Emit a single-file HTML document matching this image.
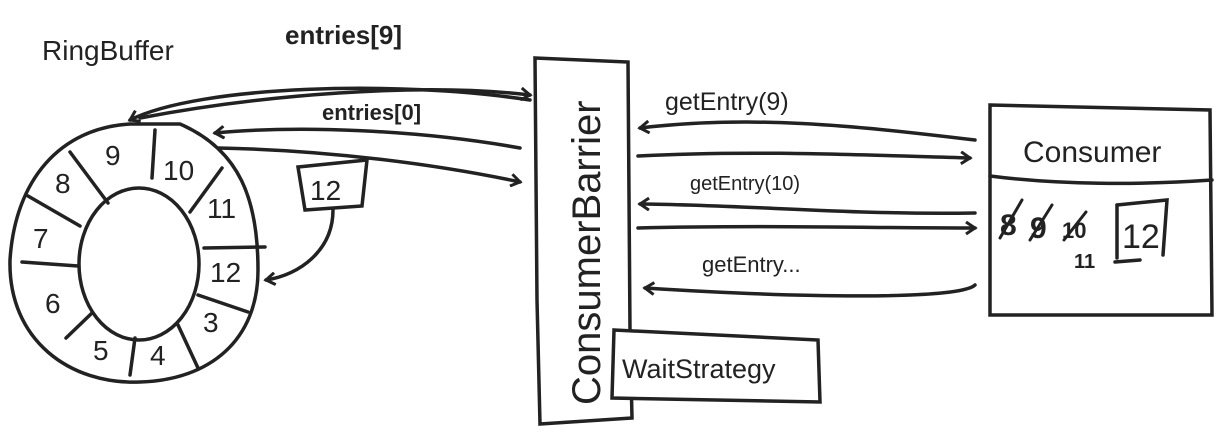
<!DOCTYPE html>
<html><head><meta charset="utf-8"><style>
html,body{margin:0;padding:0;background:#fff;}
svg{display:block;}
text{font-family:"Liberation Sans",sans-serif;fill:#222;}
</style></head><body>
<svg width="1216" height="444" viewBox="0 0 1216 444" xmlns="http://www.w3.org/2000/svg">
<defs>
<marker id="a" markerWidth="14" markerHeight="14" refX="10" refY="7" orient="auto" markerUnits="userSpaceOnUse">
<path d="M1,1 L10,7 L1,13" fill="none" stroke="#222" stroke-width="3"/>
</marker>
</defs>
<g fill="none" stroke="#222" stroke-width="3.5" stroke-linecap="round">
<path d="M130,124 C60,128 15,180 10,260 C8,340 70,385 140,382 C210,380 258,340 258,270 C258,200 240,150 180,124 Z"/>
<ellipse cx="139" cy="264" rx="60" ry="76"/>
<line x1="70" y1="152" x2="108" y2="203"/>
<line x1="155" y1="130" x2="152" y2="178"/>
<line x1="28" y1="196" x2="80" y2="226"/>
<line x1="22" y1="262" x2="78" y2="266"/>
<line x1="190" y1="212" x2="222" y2="168"/>
<line x1="204" y1="248" x2="265" y2="247"/>
<line x1="198" y1="295" x2="248" y2="312"/>
<line x1="66" y1="338" x2="92" y2="313"/>
<line x1="130" y1="375" x2="135" y2="338"/>
<line x1="178" y1="325" x2="198" y2="368"/>
<path d="M535,58 L628,62 L630,330 L632,418 L540,424 L537,300 Z"/>
<path d="M614,330 L818,340 L820,402 L612,398 Z" fill="#fff"/>
<path d="M990,105 L1210,110 L1212,315 L990,315 Z"/>
<path d="M990,176 C1060,185 1140,185 1212,180"/>
<path d="M298,167 L367,160 L362,206 L305,210 Z"/>
<path d="M333,210 C333,250 300,275 266,280" marker-end="url(#a)"/>
<path d="M530,100 C400,80 200,85 130,120" marker-end="url(#a)"/>
<path d="M520,148 C420,130 300,125 215,133" marker-end="url(#a)"/>
<path d="M218,148 C330,150 440,165 520,182" marker-end="url(#a)"/>
<path d="M140,118 C260,95 420,82 530,95" marker-end="url(#a)"/>
<path d="M975,140 C850,125 750,115 640,128" marker-end="url(#a)"/>
<path d="M638,156 C750,150 860,155 970,158" marker-end="url(#a)"/>
<path d="M975,213 C850,215 750,205 640,204" marker-end="url(#a)"/>
<path d="M638,228 C760,225 870,228 975,228" marker-end="url(#a)"/>
<path d="M975,285 C960,300 800,298 645,288" marker-end="url(#a)"/>
<line x1="1115" y1="262" x2="1140" y2="260"/>
<path d="M1117,205 L1167,200 L1163,255"/>
<line x1="1117" y1="205" x2="1117" y2="258"/>
<line x1="1000" y1="238" x2="1022" y2="200" stroke-width="3"/>
<line x1="1030" y1="240" x2="1052" y2="205" stroke-width="3"/>
<line x1="1064" y1="240" x2="1086" y2="212" stroke-width="3"/>
</g>
<g font-size="28">
<text x="42" y="60">RingBuffer</text>
<text x="285" y="44" font-size="26" font-weight="bold">entries[9]</text>
<text x="322" y="120" font-size="22" font-weight="bold">entries[0]</text>
<text x="665" y="110" font-size="25">getEntry(9)</text>
<text x="690" y="190" font-size="20">getEntry(10)</text>
<text x="702" y="272" font-size="22">getEntry...</text>
<text x="1023" y="162" font-size="30">Consumer</text>
<text x="622" y="378" font-size="27">WaitStrategy</text>
<text x="1122" y="248" font-size="34">12</text>
<text x="1000" y="235" font-size="30" font-weight="bold">8</text>
<text x="1030" y="238" font-size="30" font-weight="bold">9</text>
<text x="1062" y="238" font-size="22" font-weight="bold">10</text>
<text x="1074" y="268" font-size="20" font-weight="bold">11</text>
<text x="310" y="200">12</text>
<text x="105" y="165">9</text>
<text x="163" y="180">10</text>
<text x="55" y="193">8</text>
<text x="33" y="248">7</text>
<text x="207" y="218">11</text>
<text x="210" y="282">12</text>
<text x="45" y="313">6</text>
<text x="93" y="360">5</text>
<text x="150" y="365">4</text>
<text x="203" y="332">3</text>
<text transform="translate(600,405) rotate(-90)" font-size="40">ConsumerBarrier</text>
</g>
</svg>
</body></html>
